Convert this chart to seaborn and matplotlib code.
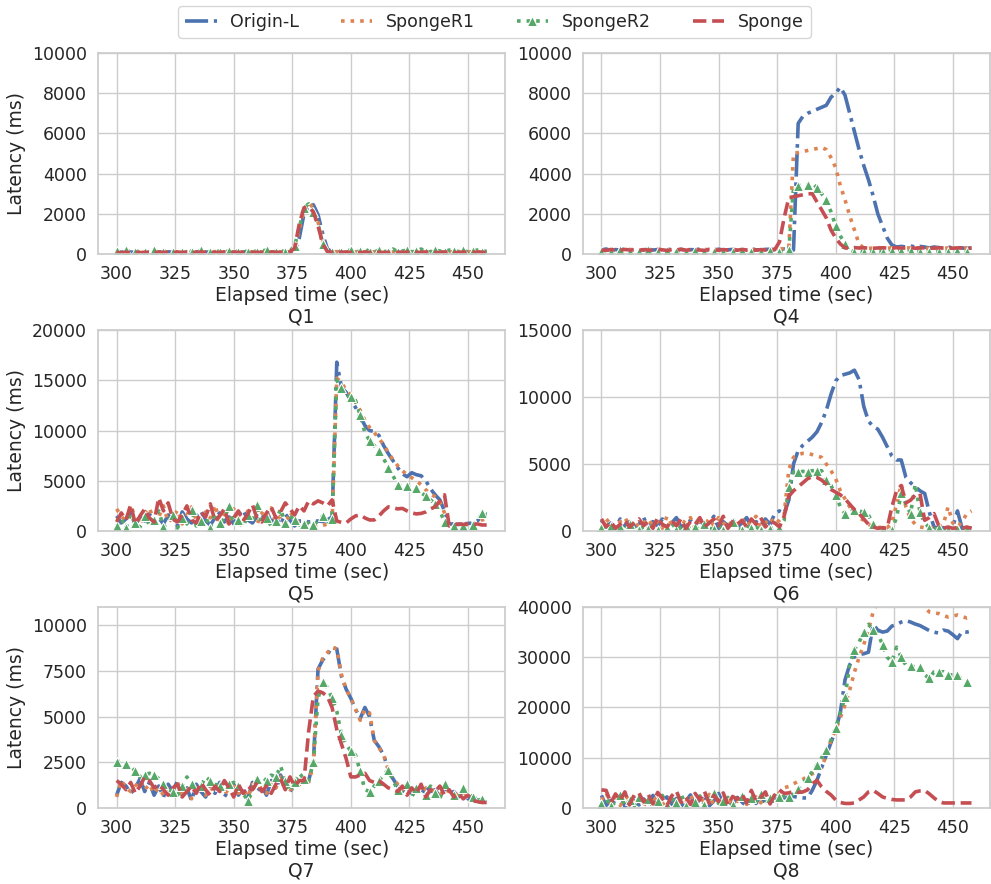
import matplotlib
matplotlib.use("Agg")
import matplotlib.pyplot as plt
import seaborn as sns

# ---------------- data ----------------
elapsed = list(range(300, 460, 2))  # 300 ... 458 (sec)
series_names = ["Origin-L", "SpongeR1", "SpongeR2", "Sponge"]
panel_titles = ["Q1", "Q4", "Q5", "Q6", "Q7", "Q8"]
y_tops = [10000, 10000, 20000, 15000, 11000, 40000]
y_tick_steps = [2000, 2000, 5000, 5000, 2500, 10000]
x_ticks = [300, 325, 350, 375, 400, 425, 450]

q1_origin = [100,90,110,100,80,120,100,90,110,100,
             100,110,90,100,120,100,90,110,100,100,
             90,110,100,100,120,90,100,110,100,90,
             100,110,90,100,120,100,90,100,150,800,
             2000,2400,2450,1950,1000,250,110,100,90,110,
             100,90,110,100,120,100,90,110,100,100,
             90,110,100,120,100,90,110,100,100,90,
             110,100,90,120,100,110,90,100,100,90]
q1_r1 = [120,100,90,110,100,130,90,100,120,100,
         90,100,120,110,90,100,130,100,90,110,
         100,120,90,110,100,100,120,90,110,100,
         90,100,120,100,90,110,100,120,300,1200,
         2200,2550,2300,1600,700,150,100,120,90,100,
         110,100,90,120,100,110,100,90,120,100,
         100,120,90,110,100,120,90,110,100,120,
         90,110,100,120,90,100,110,120,100,100]
q1_r2 = [150,100,200,120,100,180,90,150,200,100,
         120,200,100,150,90,200,120,100,180,150,
         100,200,120,100,160,200,100,150,120,200,
         100,150,200,100,120,180,100,150,400,1300,
         2300,2500,2100,1500,500,150,100,200,120,150,
         200,100,150,250,120,100,200,150,100,250,
         120,150,200,100,150,250,100,120,200,150,
         100,200,150,120,200,100,150,200,120,150]
q1_sponge = [80,70,90,80,100,70,90,80,70,100,
             80,90,70,100,80,90,70,80,100,90,
             70,80,90,100,70,90,80,70,100,80,
             90,70,80,100,90,70,80,90,300,1500,
             2300,2350,2100,1400,500,120,90,80,100,90,
             80,100,70,90,80,100,90,70,80,100,
             90,80,100,70,90,80,100,90,80,70,
             100,90,80,70,100,90,80,100,90,80]

q4_origin = [200,250,180,220,200,260,190,230,210,200,
             240,200,220,190,250,210,200,230,190,220,
             210,250,200,220,190,240,200,210,230,200,
             220,190,250,210,200,230,240,220,210,250,
             200,200,6500,6850,7000,7100,7200,7300,7400,7800,
             8000,8300,7900,7000,6100,5200,4400,3700,2900,2000,
             1400,800,450,350,380,350,400,350,380,350,
             300,350,320,300,350,300,320,300,280,300]
q4_r1 = [150,200,250,180,220,170,240,200,190,230,
         210,180,250,200,170,230,200,220,180,240,
         200,190,230,210,250,180,220,200,240,190,
         230,200,180,250,210,220,190,240,260,250,
         300,5000,5050,5100,5150,5200,5250,5300,5200,4800,
         4300,3400,2700,1900,1200,500,300,280,300,320,
         300,280,320,300,280,310,300,290,320,300,
         280,300,320,290,300,280,310,300,290,300]
q4_r2 = [100,150,80,120,200,100,90,150,120,100,
         180,100,120,90,150,110,100,160,120,100,
         150,90,120,180,100,130,90,150,110,100,
         140,100,90,160,120,100,150,110,100,120,
         200,3300,3400,3500,3450,3550,3300,3000,2700,2100,
         1400,900,500,200,100,150,100,150,100,150,
         120,100,150,100,130,100,150,120,100,140,
         100,130,100,150,120,100,140,110,100,130]
q4_sponge = [200,180,220,200,190,230,200,210,180,220,
             200,190,230,210,180,220,200,240,190,210,
             220,200,180,230,210,190,220,200,210,190,
             230,200,210,190,220,200,200,220,600,1800,
             2800,2850,2900,2950,3000,3000,2600,2200,1800,1200,
             800,500,300,300,320,300,310,300,290,300,
             310,300,290,320,300,300,310,290,300,310,
             300,290,310,300,300,290,300,310,300,290]

q5_origin = [1500,800,1200,1800,600,1400,1000,1700,900,1300,
             700,1600,1100,500,1900,1200,800,1500,2000,1000,
             600,1300,1800,900,1400,700,1600,2100,1100,800,
             1500,1200,2000,900,1300,600,1700,1100,500,1000,
             1000,900,950,1000,950,1100,1400,16800,14300,13800,
             13000,12300,11400,10500,10000,9900,9500,8500,7700,7000,
             6300,5700,5400,5800,5600,5500,5000,4200,3600,3100,
             2000,700,700,650,700,750,800,1000,1500,1600]
q5_r1 = [2200,1500,900,2600,1200,700,1800,2300,1000,1400,
         2500,900,1300,2100,700,1600,2400,1100,800,1900,
         1300,2600,1000,1700,600,2200,1400,900,2000,1200,
         700,1800,1300,2300,900,1500,600,1900,1200,800,
         600,700,500,600,550,700,900,15200,14800,14000,
         13500,12800,12000,11000,10300,9800,9200,8600,7800,7100,
         6500,6000,5600,5300,5000,4600,4100,3700,3400,2900,
         1800,700,600,700,650,600,700,900,1100,1200]
q5_r2 = [500,1200,300,1700,800,400,1500,600,1100,2000,
         400,900,1600,300,1300,700,2100,500,1000,1400,
         300,1800,800,1200,2500,600,1100,400,1600,900,
         2600,700,1300,500,1000,2200,800,1500,1100,600,
         700,800,600,1000,1500,900,1200,15000,14200,13600,
         13300,13000,11500,9800,9000,8500,8000,7200,6300,5500,
         4600,4400,4500,4600,4300,3800,3500,3100,2700,2000,
         900,500,500,450,500,550,600,1000,1800,1700]
q5_sponge = [900,1800,1100,2600,700,1500,2200,1300,900,3300,
             2000,2800,1200,900,1600,2500,1100,800,1900,1400,
             2700,1000,1500,2200,700,1300,2000,1000,1700,2600,
             1200,900,1800,2400,1300,1900,2800,2200,1600,2500,
             2000,3000,2700,3000,2800,2500,3100,1000,850,800,
             1200,1500,1600,1300,1100,1100,1500,2000,2400,2300,
             2200,2250,2000,1800,1700,1750,1900,2200,2400,3000,
             3600,500,600,700,650,700,650,700,600,600]

q6_origin = [800,300,600,200,900,400,700,300,500,1000,
             300,700,400,900,200,600,1000,300,500,800,
             400,900,300,600,1100,200,700,400,900,300,
             600,1000,300,700,400,900,500,1300,1500,1300,
             2300,5000,6000,6400,6700,7000,7400,8100,9000,10200,
             11200,11600,11700,11800,12000,11300,9300,8200,7800,7600,
             7000,6300,5600,5300,5300,4000,3600,3300,3000,2800,
             1400,300,200,250,200,300,1500,200,300,200]
q6_r1 = [300,900,500,200,700,1000,400,800,300,600,
         900,400,700,200,1100,500,300,800,600,1000,
         200,700,500,900,400,1000,600,300,800,500,
         900,400,700,1100,300,600,1000,500,800,1200,
         4600,5500,5700,5800,5800,5700,5600,5500,5000,4500,
         3900,3000,2400,1800,1300,1000,800,500,300,250,
         300,250,600,2000,3500,1800,900,500,300,250,
         300,200,300,500,1800,600,300,700,1300,1500]
q6_r2 = [200,100,400,150,300,100,500,200,100,300,
         150,400,100,300,200,600,100,250,400,150,
         300,100,500,200,150,400,100,300,700,200,
         100,400,200,300,100,500,150,300,200,800,
         3300,4400,4400,4450,4400,4500,4500,4500,3800,3400,
         2700,1800,1300,1400,1600,1500,1400,1200,500,200,
         150,200,100,1000,2800,2000,1300,3500,1400,600,
         250,150,200,150,100,200,150,200,150,200]
q6_sponge = [900,300,700,200,500,800,300,600,900,400,
             700,200,1000,500,300,800,400,900,200,700,
             500,1000,300,600,900,400,1100,200,700,500,
             800,300,900,500,1000,300,700,600,300,1100,
             2600,3000,3300,3600,3900,4050,4000,3800,3500,3100,
             2900,2700,2400,2000,1600,1300,900,500,300,200,
             250,200,1800,3000,3400,2100,2300,2700,2800,800,
             1000,1300,400,200,300,200,250,200,300,200]

q7_origin = [700,1400,1200,800,1100,1600,900,1400,700,1200,
             600,1300,900,1500,700,1100,400,1300,900,600,
             1200,800,1400,600,1000,1300,700,1100,500,1400,
             900,1200,700,1500,1000,1800,1300,900,1200,1400,
             1400,1500,2500,7600,8100,8400,8800,8700,7200,6500,
             6000,5400,4900,5500,5000,3700,3350,2900,2100,1600,
             1200,900,1300,800,1100,700,1200,900,1000,600,
             1100,800,900,600,1000,500,700,400,350,300]
q7_r1 = [600,1500,1100,900,1200,1500,1000,1300,800,1100,
         700,1200,1000,1400,600,1200,500,1200,800,700,
         1100,900,1300,700,1100,1200,800,1000,600,1300,
         1000,1100,800,1400,1100,1700,1200,1000,1100,1300,
         1300,1400,2400,7500,8200,8500,8800,8700,7300,6500,
         6000,5400,4800,5400,5200,3700,3300,2900,2100,1600,
         1300,1000,1200,900,1000,800,1100,1000,900,700,
         1000,900,800,700,900,600,600,500,400,300]
q7_r2 = [2500,2600,2400,2300,2000,1700,1800,1900,1800,1600,
         1300,1000,900,700,1200,1700,1300,900,1200,1700,
         1500,1300,1200,1400,1300,1400,1200,800,400,900,
         1600,1700,1500,1800,1700,2300,1500,900,1400,1900,
         1600,1500,2500,6000,6900,6600,6000,5300,4000,3500,
         3100,2900,2000,1000,900,1200,1500,1800,2100,1500,
         1000,800,1300,600,1100,900,700,1200,800,500,
         1300,900,700,500,1100,800,600,400,500,400]
q7_sponge = [1500,1300,1000,1400,800,1200,1700,1500,1100,1300,
             1000,700,1100,1300,600,900,1200,800,1400,1000,
             700,1200,900,1500,1100,600,1300,800,1200,1000,
             1400,900,1200,800,1300,1600,1000,1700,1200,1500,
             1500,4200,6100,6400,6300,6100,5500,4300,3500,2700,
             1700,1700,1800,1900,1500,1400,1500,1300,1100,1000,
             900,1200,700,1100,800,1300,600,1000,900,1200,
             700,1000,600,800,500,700,400,350,300,300]

q8_origin = [2500,500,1500,800,2800,300,1200,2000,600,1800,
             900,2500,400,1500,2200,700,1900,300,1300,2600,
             600,1700,2300,400,1400,2900,800,1600,500,2100,
             1200,300,2000,900,2600,700,1800,1400,2200,2000,
             2200,2300,2100,2000,2000,3500,5500,8000,10500,13000,
             15500,19000,25500,28500,30100,30500,30700,31000,36500,35400,
             35000,35200,36200,36500,37000,37300,37000,36600,36300,35800,
             35300,35000,34800,35400,35200,34500,33700,35100,35000,35200]
q8_r1 = [1500,3000,800,2200,500,1800,2600,900,1400,300,
         2100,1000,2800,600,1500,2300,400,1900,1100,2500,
         800,2000,1200,2700,500,1600,2400,900,1800,1300,
         2600,700,1500,2200,1000,2900,1800,2300,3000,4000,
         4300,4800,5300,5700,6300,6800,7400,8000,10500,13500,
         15500,18000,20500,23500,27000,30000,32500,35500,39000,41000,
         42000,42500,42000,42500,43000,42000,41500,41000,40500,40000,
         39000,38800,38700,38300,38000,38200,38400,38100,37800,38000]
q8_r2 = [800,2000,300,1200,2600,500,1500,400,2200,900,
         1800,300,1300,2500,600,1900,1000,2800,400,1500,
         1100,2400,600,1700,3000,900,1400,2100,500,1600,
         2300,800,2000,1200,2700,1000,1900,2500,2100,2300,
         2200,2800,3800,5000,6000,7200,8600,10000,11500,13500,
         16000,19000,22000,28500,31500,33000,35000,36500,35500,34700,
         32500,30000,29100,32000,30000,28400,28200,28100,28100,26500,
         25800,27100,27100,27100,26500,26500,26400,25500,25000,24500]
q8_sponge = [3600,3500,1000,2800,1500,3200,600,2600,3000,1200,
             2700,800,3100,1900,500,2400,3400,1100,2200,700,
             2900,1600,3300,900,2500,1300,3000,600,2300,1700,
             2800,1000,3500,1400,2100,3200,800,2600,3600,2900,
             3000,3300,3100,3200,3600,4800,5500,4200,3300,2600,
             1600,1100,900,900,1000,1600,2200,3200,3500,2900,
             2200,1900,1700,1600,1600,1600,2200,3200,3400,3500,
             2800,2000,1300,1000,1000,1000,1000,1000,1000,1000]

panels = [
    [q1_origin, q1_r1, q1_r2, q1_sponge],
    [q4_origin, q4_r1, q4_r2, q4_sponge],
    [q5_origin, q5_r1, q5_r2, q5_sponge],
    [q6_origin, q6_r1, q6_r2, q6_sponge],
    [q7_origin, q7_r1, q7_r2, q7_sponge],
    [q8_origin, q8_r1, q8_r2, q8_sponge],
]
for p in panels:
    for s in p:
        assert len(s) == len(elapsed), len(s)

# ---------------- style ----------------
sns.set_theme(style="whitegrid")
plt.rcParams["font.family"] = ["DejaVu Sans"]
pal = sns.color_palette("deep")
styles = [
    dict(color=pal[0], linestyle="-.", linewidth=2.6),
    dict(color=pal[1], linestyle=":", linewidth=2.6),
    dict(color=pal[2], linestyle=":", linewidth=2.6, marker="^", markersize=7, markevery=2),
    dict(color=pal[3], linestyle="--", linewidth=2.6),
]

fig, axes = plt.subplots(3, 2, figsize=(9.91, 8.84), dpi=100)
fig.subplots_adjust(left=0.099, right=0.999, top=0.94, bottom=0.086,
                    wspace=0.191, hspace=0.378)

for i, ax in enumerate(axes.flat):
    for name, vals, st in zip(series_names, panels[i], styles):
        sns.lineplot(x=elapsed, y=vals, ax=ax, label=name, errorbar=None, **st)
    if ax.get_legend() is not None:
        ax.get_legend().remove()
    ax.set_ylim(0, y_tops[i])
    step = y_tick_steps[i]
    ax.set_yticks(list(range(0, y_tops[i] + 1, step)))
    ax.set_xticks(x_ticks)
    ax.tick_params(labelsize=12.5, pad=2)
    ax.set_xlabel("Elapsed time (sec)\n" + panel_titles[i], fontsize=13.5, labelpad=2)
    if i % 2 == 0:
        ax.set_ylabel("Latency (ms)", fontsize=13.5)
    else:
        ax.set_ylabel("")

handles, labels = axes[0, 0].get_legend_handles_labels()
fig.legend(handles, labels, loc="upper center", bbox_to_anchor=(0.499, 1.003),
           ncol=4, fontsize=12.5, frameon=True, handlelength=1.8,
           columnspacing=2.4)

fig.savefig("out.png", dpi=100)
